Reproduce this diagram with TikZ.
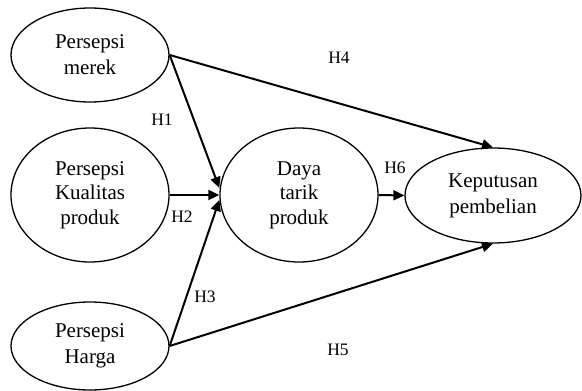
\documentclass[tikz,border=0pt]{standalone}
\usepackage{fontspec}
\setmainfont{Liberation Serif}
\usetikzlibrary{shapes.geometric,arrows.meta,calc}
\begin{document}
\begin{tikzpicture}[x=1pt,y=-1pt,
  var/.style={draw,ellipse,line width=1.3pt,inner sep=0pt,align=center,
    font=\fontsize{21}{26}\selectfont},
  var3/.style={var,font=\fontsize{21}{24.5}\selectfont},
  link/.style={line width=2pt,-{Triangle[length=11pt,width=10pt]}},
  hlab/.style={font=\fontsize{17.5}{20}\selectfont,inner sep=0pt}]
\useasboundingbox (0,0) rectangle (582,391);
\node[var,minimum width=158pt,minimum height=94pt] (merek) at (90,55) {Persepsi\\merek};
\node[var3,minimum width=158pt,minimum height=134pt] (kual) at (90,195) {Persepsi\\Kualitas\\produk};
\node[var,minimum width=158pt,minimum height=88pt] (harga) at (90,346) {Persepsi\\Harga};
\node[var3,minimum width=158pt,minimum height=134pt] (daya) at (299,195) {Daya\\tarik\\produk};
\node[var,minimum width=176pt,minimum height=95pt] (kep) at (493,195.5) {Keputusan\\pembelian};
\coordinate (t1) at ($(daya.west)+(0,-7)$);
\coordinate (t3) at ($(daya.west)+(0,5)$);
\draw[link] (merek.east) -- (t1);
\draw[link] (kual.east) -- (daya.west);
\draw[link] (harga.east) -- (t3);
\draw[link] (merek.east) -- (kep.north);
\draw[link] (harga.east) -- (kep.south);
\draw[link] (daya.east) -- (kep.west);
\node[hlab] (h1) at (162,120) {H1};
\node[hlab] (h2) at (182,217) {H2};
\node[hlab] (h3) at (205,297) {H3};
\node[hlab] (h4) at (339,58) {H4};
\node[hlab] (h5) at (338,350) {H5};
\node[hlab] (h6) at (395,168) {H6};
\end{tikzpicture}
\end{document}
